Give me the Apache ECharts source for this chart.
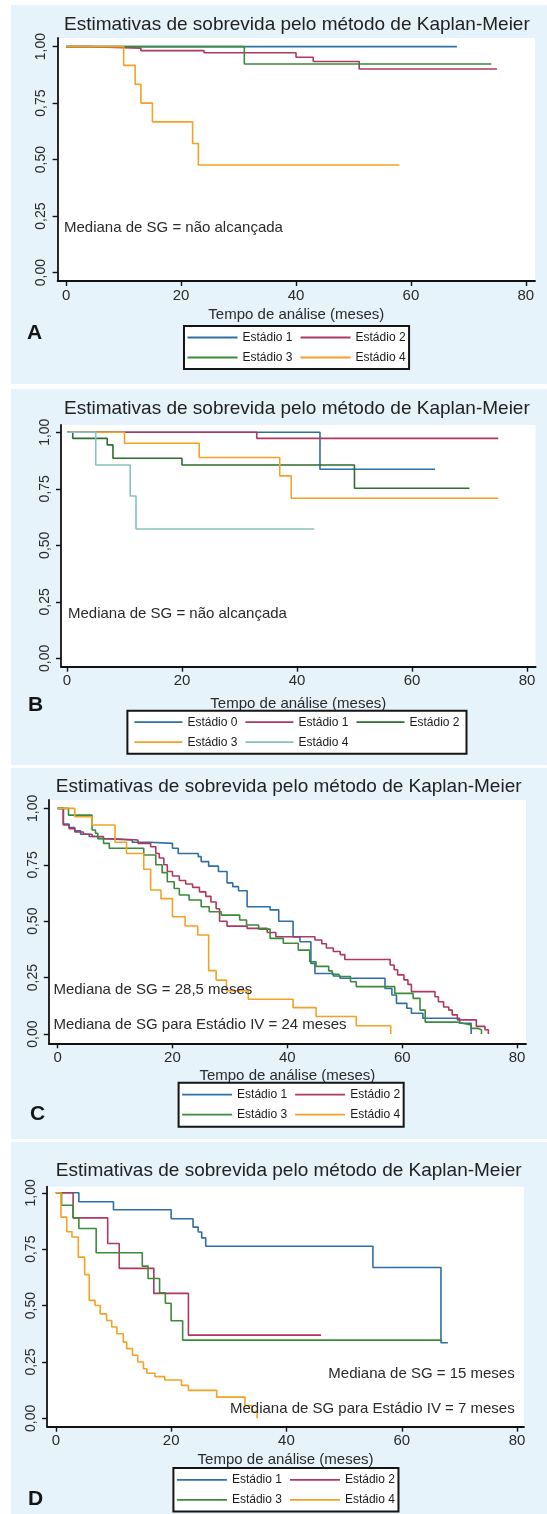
<!DOCTYPE html>
<html>
<head>
<meta charset="utf-8">
<script src="https://cdn.jsdelivr.net/npm/echarts@6/dist/echarts.min.js"></script>
<style>
  html, body { margin: 0; padding: 0; background: #fff; }
  body { width: 547px; height: 1514px; position: relative; overflow: hidden; }
  .panel { position: absolute; left: 11px; width: 536px; background: #e6f3fa; }
</style>
</head>
<body>
<div id="pA" class="panel" style="top:5px;height:379px"></div>
<div id="pB" class="panel" style="top:389px;height:376px"></div>
<div id="pC" class="panel" style="top:768px;height:371px"></div>
<div id="pD" class="panel" style="top:1142px;height:372px"></div>
<script>
// texts and ticks
const TITLE = 'Estimativas de sobrevida pelo método de Kaplan-Meier';
const X_NAME = 'Tempo de análise (meses)';
const xTicks = [0, 20, 40, 60, 80];
const yTicks = [0, 0.25, 0.5, 0.75, 1];

// Painel A  -  [meses, sobrevida]
const aStage1 = [[0, 1], [68, 1]];
const aStage2 = [[0, 1], [4, 0.993], [13, 0.982], [24, 0.973], [40, 0.953], [43, 0.934], [51, 0.901], [75, 0.901]];
const aStage3 = [[0, 1], [31, 0.923], [74, 0.923]];
const aStage4 = [[0, 1], [10, 0.917], [12, 0.833], [13, 0.75], [15, 0.667], [22, 0.571], [23, 0.476], [58, 0.476]];

// Painel B
const bStage0 = [[0, 1], [44, 0.836], [64, 0.836]];
const bStage1 = [[0, 1], [33, 0.973], [75, 0.973]];
const bStage2 = [[0, 1], [1, 0.973], [7, 0.944], [8, 0.885], [20, 0.855], [50, 0.752], [70, 0.752]];
const bStage3 = [[0, 1], [10, 0.951], [23, 0.888], [37, 0.807], [39, 0.708], [75, 0.708]];
const bStage4 = [[0, 1], [5, 0.855], [11, 0.718], [12, 0.572], [43, 0.572]];

// Painel C
const cStage1 = [[0, 1], [1, 0.93], [2, 0.915], [3, 0.9], [4, 0.885], [5.5, 0.875], [7, 0.865], [8, 0.86], [13, 0.85],
  [16, 0.845], [20, 0.823], [21, 0.8], [24.5, 0.786], [25, 0.764], [26.3, 0.744], [28, 0.72], [29.5, 0.67],
  [30.5, 0.653], [31.5, 0.635], [33, 0.564], [37, 0.55], [38.5, 0.5], [41, 0.43], [42.2, 0.409], [44.1, 0.313],
  [44.8, 0.268], [48, 0.257], [49.2, 0.247], [57, 0.202], [58.2, 0.173], [59, 0.136], [60.8, 0.114], [61.6, 0.092],
  [63.6, 0.07], [70, 0.048], [72, 0]];
const cStage2 = [[0, 1], [1, 0.926], [2, 0.91], [3, 0.895], [4.5, 0.885], [6, 0.875], [8, 0.865], [10, 0.86],
  [14, 0.845], [16.2, 0.83], [17.1, 0.8], [17.7, 0.78], [18.5, 0.75], [19.1, 0.72], [20, 0.7], [21.2, 0.68],
  [22.3, 0.665], [23.5, 0.65], [24.7, 0.63], [25.8, 0.61], [26.7, 0.585], [27.6, 0.555], [28.2, 0.5], [29.5, 0.478],
  [33, 0.468], [36.5, 0.45], [38, 0.431], [44.8, 0.417], [46, 0.4], [46.8, 0.381], [48, 0.366], [49.2, 0.352],
  [50, 0.33], [57.9, 0.306], [58.6, 0.285], [59.2, 0.262], [60.3, 0.24], [61, 0.22], [61.6, 0.188], [65.7, 0.165],
  [66.3, 0.143], [67.2, 0.12], [68.1, 0.106], [68.7, 0.085], [69.6, 0.063], [72.9, 0.034], [74.4, 0.019], [75, 0]];
const cStage3 = [[0, 1], [1.9, 0.97], [6, 0.904], [6.6, 0.89], [7, 0.867], [8, 0.845], [9, 0.823], [15, 0.793],
  [17.1, 0.75], [18.2, 0.715], [19.1, 0.675], [20.3, 0.645], [21.2, 0.616], [22.9, 0.594], [25, 0.564],
  [26.4, 0.542], [28.5, 0.527], [31.7, 0.505], [32.9, 0.483], [35, 0.465], [37, 0.424], [39.3, 0.402],
  [41.9, 0.372], [43.9, 0.32], [45, 0.3], [47.2, 0.28], [47.8, 0.265], [49, 0.255], [51, 0.232], [52, 0.21],
  [58.7, 0.18], [61.9, 0.158], [63.1, 0.106], [64, 0.053], [69.5, 0.048], [70.5, 0.04], [72, 0.025],
  [73.2, 0.019], [73.8, 0]];
const cStage4 = [[0, 1], [3, 0.963], [6, 0.926], [10, 0.85], [12, 0.8], [15, 0.73], [16.2, 0.638], [18, 0.6],
  [20, 0.52], [22.2, 0.479], [24.4, 0.439], [26.3, 0.281], [27.6, 0.239], [29.4, 0.192], [33.2, 0.154],
  [41, 0.117], [45, 0.078], [52, 0.037], [58, 0]];

// Painel D
const dStage1 = [[0, 1], [4, 0.96], [10, 0.925], [20, 0.885], [23.8, 0.848], [24.7, 0.826], [25.3, 0.8], [26, 0.763],
  [55, 0.669], [66.8, 0.335], [68, 0.335]];
const dStage2 = [[0, 1], [3, 0.889], [9, 0.775], [11, 0.665], [17, 0.554], [23, 0.369], [46, 0.369]];
const dStage3 = [[0, 1], [1, 0.945], [3, 0.889], [4, 0.842], [7, 0.734], [15, 0.675], [16, 0.62], [18, 0.557],
  [19, 0.51], [20, 0.433], [22, 0.347], [67, 0.347]];
const dStage4 = [[0, 1], [0.9, 0.892], [1.9, 0.827], [2.8, 0.804], [3.9, 0.715], [5, 0.637], [5.8, 0.523],
  [6.8, 0.5], [7.7, 0.463], [8.8, 0.434], [9.7, 0.405], [10.6, 0.375], [11.7, 0.338], [12.3, 0.309], [13.3, 0.28],
  [14.2, 0.25], [15.2, 0.22], [15.8, 0.2], [17.2, 0.185], [18.9, 0.17], [21.8, 0.146], [23, 0.124], [27.9, 0.094],
  [32.8, 0.057], [34, 0.028], [34.9, 0]];

const FONT = "'Liberation Sans', Arial, sans-serif";
const BLUE = '#2e6fa5', RED = '#b0385f', GREEN = '#3b8b3b', ORANGE = '#f4a225', TEAL = '#86c2bd', DKGREEN = '#2e6e2e';

function note(text, x, y, align) {
  return {
    type: 'text', x: x, y: y, z: 50,
    style: { text: text, fill: '#2a2a2a', font: '15px ' + FONT,
      align: align, textAlign: align, verticalAlign: 'middle', textVerticalAlign: 'middle' }
  };
}

function makeOption(p) {
  return {
    animation: false,
    textStyle: { fontFamily: FONT },
    title: {
      text: TITLE, left: p.titleLeft, top: p.titleTop, padding: 0,
      textStyle: { fontSize: 19, fontWeight: 'normal', color: '#222', fontFamily: FONT }
    },
    grid: { left: p.grid[0], top: p.grid[1], width: p.grid[2], height: p.grid[3],
      show: true, backgroundColor: '#fff', borderWidth: 0 },
    xAxis: {
      type: 'value', min: p.xRange[0], max: p.xRange[1],
      name: X_NAME, nameLocation: 'middle', nameGap: p.nameGap, nameMoveOverlap: false,
      nameTextStyle: { fontSize: 15, color: '#2a2a2a', fontFamily: FONT },
      axisLine: { onZero: false, lineStyle: { color: '#111', width: 1.8 } },
      axisTick: { customValues: xTicks, length: 5, lineStyle: { color: '#111', width: 1.4 } },
      axisLabel: { customValues: xTicks, fontSize: 15, color: '#2a2a2a', margin: 7 },
      splitLine: { show: false }
    },
    yAxis: {
      type: 'value', min: p.yRange[0], max: p.yRange[1],
      axisLine: { onZero: false, lineStyle: { color: '#111', width: 1.8 } },
      axisTick: { customValues: yTicks, length: 5, lineStyle: { color: '#111', width: 1.4 } },
      axisLabel: { customValues: yTicks, fontSize: 14, color: '#2a2a2a', rotate: 90, margin: 9,
        formatter: v => v.toFixed(2).replace('.', ',') },
      splitLine: { show: false }
    },
    legend: {
      data: p.curves.map(c => c.name),
      left: p.legend.left, top: p.legend.top, width: p.legend.width,
      padding: p.legend.padding, itemGap: 8,
      icon: 'rect', itemWidth: p.legend.itemWidth, itemHeight: 1.8,
      backgroundColor: '#fff', borderColor: '#151515', borderWidth: 2, borderRadius: 0,
      selectedMode: false,
      textStyle: { fontSize: 12, fontFamily: FONT, color: '#1a1a1a', width: p.legend.textW }
    },
    graphic: p.notes.concat([{
      type: 'text', x: p.letter.x, y: p.letter.y, z: 50,
      style: { text: p.letter.text, fill: '#151515', font: 'bold 21px ' + FONT,
        verticalAlign: 'middle', textVerticalAlign: 'middle' }
    }]),
    series: p.curves.map(c => ({
      name: c.name, type: 'line', step: 'end', data: c.data,
      symbol: 'none', showSymbol: false, color: c.color,
      lineStyle: { color: c.color, width: 1.6 }
    }))
  };
}

const panels = [
  {
    id: 'pA', titleLeft: 53, titleTop: 10,
    grid: [46.6, 33, 477.4, 243], xRange: [-1.5, 81.6], yRange: [-0.037, 1.038], nameGap: 26,
    legend: { left: 173, top: 321, width: 228, padding: [5.5, 3.5], itemWidth: 50, textW: 48 },
    notes: [note('Mediana de SG = não alcançada', 53, 223, 'left')],
    letter: { text: 'A', x: 16, y: 328 },
    curves: [
      { name: 'Estádio 1', color: BLUE, data: aStage1 },
      { name: 'Estádio 2', color: RED, data: aStage2 },
      { name: 'Estádio 3', color: GREEN, data: aStage3 },
      { name: 'Estádio 4', color: ORANGE, data: aStage4 }
    ]
  },
  {
    id: 'pB', titleLeft: 53, titleTop: 10,
    grid: [50, 36, 474.6, 241.7], xRange: [-1.04, 81.5], yRange: [-0.037, 1.032], nameGap: 29.5,
    legend: { left: 116.4, top: 321.7, width: 333, padding: [5.5, 7], itemWidth: 48, textW: 51.5 },
    notes: [note('Mediana de SG = não alcançada', 57, 225, 'left')],
    letter: { text: 'B', x: 17, y: 316 },
    curves: [
      { name: 'Estádio 0', color: BLUE, data: bStage0 },
      { name: 'Estádio 1', color: RED, data: bStage1 },
      { name: 'Estádio 2', color: DKGREEN, data: bStage2 },
      { name: 'Estádio 3', color: ORANGE, data: bStage3 },
      { name: 'Estádio 4', color: TEAL, data: bStage4 }
    ]
  },
  {
    id: 'pC', titleLeft: 44.8, titleTop: 9,
    grid: [37.8, 32, 477.2, 243.3], xRange: [-1.53, 81.55], yRange: [-0.041, 1.037], nameGap: 25,
    legend: { left: 167.6, top: 314.7, width: 228, padding: [6, 3.5], itemWidth: 50, textW: 48 },
    notes: [note('Mediana de SG = 28,5 meses', 42.4, 222, 'left'),
            note('Mediana de SG para Estádio IV = 24 meses', 42.4, 257, 'left')],
    letter: { text: 'C', x: 19, y: 346 },
    curves: [
      { name: 'Estádio 1', color: BLUE, data: cStage1 },
      { name: 'Estádio 2', color: RED, data: cStage2 },
      { name: 'Estádio 3', color: GREEN, data: cStage3 },
      { name: 'Estádio 4', color: ORANGE, data: cStage4 }
    ]
  },
  {
    id: 'pD', titleLeft: 44.8, titleTop: 19,
    grid: [36.1, 44.7, 476.9, 240], xRange: [-1.51, 81.2], yRange: [-0.037, 1.027], nameGap: 25.5,
    legend: { left: 162.4, top: 326, width: 228, padding: [5.8, 3.5], itemWidth: 50, textW: 48 },
    notes: [note('Mediana de SG = 15 meses', 503.7, 232, 'right'),
            note('Mediana de SG para Estádio IV = 7 meses', 503.7, 267, 'right')],
    letter: { text: 'D', x: 17, y: 357 },
    curves: [
      { name: 'Estádio 1', color: BLUE, data: dStage1 },
      { name: 'Estádio 2', color: RED, data: dStage2 },
      { name: 'Estádio 3', color: GREEN, data: dStage3 },
      { name: 'Estádio 4', color: ORANGE, data: dStage4 }
    ]
  }
];

panels.forEach(p => {
  const chart = echarts.init(document.getElementById(p.id), null, { renderer: 'canvas' });
  chart.setOption(makeOption(p));
});
</script>
</body>
</html>
